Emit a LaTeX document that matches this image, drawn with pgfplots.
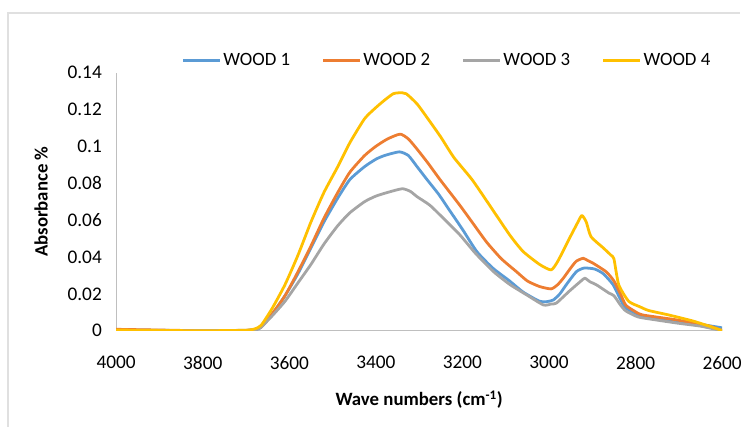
\documentclass[border=0pt]{standalone}
\usepackage{pgfplots}
\pgfplotsset{compat=1.18}
\usepackage{fontspec}
\setmainfont{Carlito}

\definecolor{woodA}{HTML}{5B9BD5}
\definecolor{woodB}{HTML}{ED7D31}
\definecolor{woodC}{HTML}{A5A5A5}
\definecolor{woodD}{HTML}{FFC000}

\begin{document}
\begin{tikzpicture}
% chart frame (left and top edges only show in the reference)
\draw[black!12, line width=1.2bp] (-109bp,-97bp) -- (-109bp,320bp) -- (628bp,320bp);
\begin{axis}[
  at={(0,0)}, anchor=south west,
  scale only axis,
  width=610bp, height=260bp,
  x dir=reverse,
  xmin=2600, xmax=4000,
  ymin=0, ymax=0.14,
  xtick={2600,2800,...,4000},
  ytick={0,0.02,...,0.14},
  scaled y ticks=false,
  major tick length=0pt,
  axis x line*=bottom, axis y line*=left,
  axis line style={black!25, line width=1bp, -},
  /pgf/number format/assume math mode=true,
  xticklabel style={font=\fontsize{19.5}{22}\selectfont, yshift=-22bp,
    /pgf/number format/set thousands separator={}, /pgf/number format/fixed},
  yticklabel style={font=\fontsize{19.5}{22}\selectfont, xshift=-11bp,
    /pgf/number format/fixed, /pgf/number format/precision=2},
  xlabel={\textbf{Wave numbers (cm\textsuperscript{-1})}},
  ylabel={\textbf{Absorbance \%}},
  label style={font=\fontsize{19}{22}\selectfont},
  xlabel style={yshift=-15bp},
  ylabel style={yshift=13bp},
  legend style={draw=none, at={(0.546,1.0)}, anchor=south, yshift=1bp,
    font=\fontsize{19}{22}\selectfont, legend columns=4,
    /tikz/every even column/.append style={column sep=30bp}},
  legend image code/.code={\draw[#1, line width=2.8bp] (0bp,0bp) -- (37bp,0bp);},
  every axis plot/.append style={line width=2.8bp, no markers, line join=round, smooth, tension=0.35},
]
\addplot[woodA] coordinates {
(4000,0.0005) (3950,0.0004) (3900,0.0003) (3850,0.0001) (3800,0.0) (3750,0.0) (3700,0.0001)
(3675,0.0008) (3665,0.002) (3640,0.009) (3610,0.019) (3580,0.031) (3550,0.045) (3520,0.059)
(3488,0.072) (3460,0.082) (3426,0.089) (3400,0.093) (3380,0.095) (3346,0.097) (3325,0.095)
(3305,0.089) (3282,0.082) (3255,0.074) (3229,0.065) (3200,0.055) (3167,0.043) (3130,0.034)
(3091,0.027) (3060,0.021) (3022,0.016) (3005,0.0158) (2990,0.0167) (2975,0.020) (2960,0.025)
(2937,0.032) (2919,0.034) (2895,0.0335) (2875,0.031) (2852,0.025) (2835,0.017) (2823,0.0124)
(2800,0.0095) (2784,0.008) (2708,0.0054) (2650,0.0035) (2600,0.0016)
};
\addplot[woodB] coordinates {
(4000,0.0008) (3950,0.0006) (3900,0.0004) (3850,0.0002) (3800,0.0) (3750,0.0) (3700,0.0002)
(3675,0.001) (3665,0.002) (3640,0.009) (3610,0.019) (3580,0.032) (3550,0.046) (3520,0.061)
(3488,0.075) (3460,0.086) (3426,0.095) (3400,0.100) (3373,0.104) (3344,0.1066) (3325,0.104)
(3305,0.0985) (3280,0.091) (3252,0.082) (3206,0.068) (3175,0.058) (3144,0.048) (3110,0.039)
(3075,0.032) (3050,0.027) (3022,0.024) (2995,0.0227) (2980,0.025) (2967,0.0285) (2950,0.034)
(2937,0.0377) (2921,0.0393) (2910,0.038) (2898,0.0366) (2868,0.032) (2850,0.027) (2835,0.020)
(2823,0.014) (2805,0.011) (2784,0.0086) (2708,0.006) (2632,0.0027) (2605,0.0005) (2600,0.0003)
};
\addplot[woodC] coordinates {
(4000,0.0) (3900,0.0) (3800,0.0) (3700,0.0003) (3675,0.0008) (3665,0.002) (3640,0.008)
(3610,0.016) (3580,0.026) (3550,0.036) (3520,0.047) (3488,0.057) (3460,0.064) (3426,0.070)
(3400,0.073) (3373,0.075) (3339,0.077) (3320,0.0755) (3305,0.0727) (3275,0.068) (3240,0.060)
(3206,0.052) (3170,0.042) (3128,0.032) (3090,0.025) (3052,0.0195) (3013,0.014) (2995,0.0145)
(2983,0.015) (2953,0.0215) (2926,0.027) (2917,0.0285) (2905,0.0265) (2891,0.025) (2862,0.0205)
(2850,0.019) (2835,0.014) (2823,0.0108) (2800,0.008) (2784,0.007) (2708,0.0043) (2650,0.0025)
(2609,0.0005) (2600,0.0003)
};
\addplot[woodD] coordinates {
(4000,0.0004) (3900,0.0002) (3800,0.0) (3700,0.0003) (3680,0.001) (3665,0.003) (3640,0.012)
(3610,0.025) (3580,0.041) (3550,0.059) (3520,0.075) (3488,0.089) (3460,0.102) (3426,0.115)
(3400,0.121) (3380,0.125) (3360,0.1285) (3346,0.129) (3330,0.1285) (3305,0.123) (3280,0.115)
(3250,0.105) (3220,0.094) (3178,0.082) (3140,0.069) (3091,0.052) (3060,0.043) (3022,0.036)
(2995,0.033) (2979,0.038) (2953,0.050) (2933,0.059) (2924,0.0625) (2914,0.059) (2903,0.051)
(2875,0.045) (2857,0.041) (2850,0.039) (2839,0.025) (2816,0.016) (2790,0.013) (2770,0.011)
(2724,0.0086) (2669,0.0054) (2630,0.0025) (2605,0.0005) (2600,0.0003)
};
\legend{WOOD 1,WOOD 2,WOOD 3,WOOD 4}
\end{axis}
\path[use as bounding box] (-117bp,-97bp) rectangle (628bp,333bp);
\end{tikzpicture}
\end{document}
